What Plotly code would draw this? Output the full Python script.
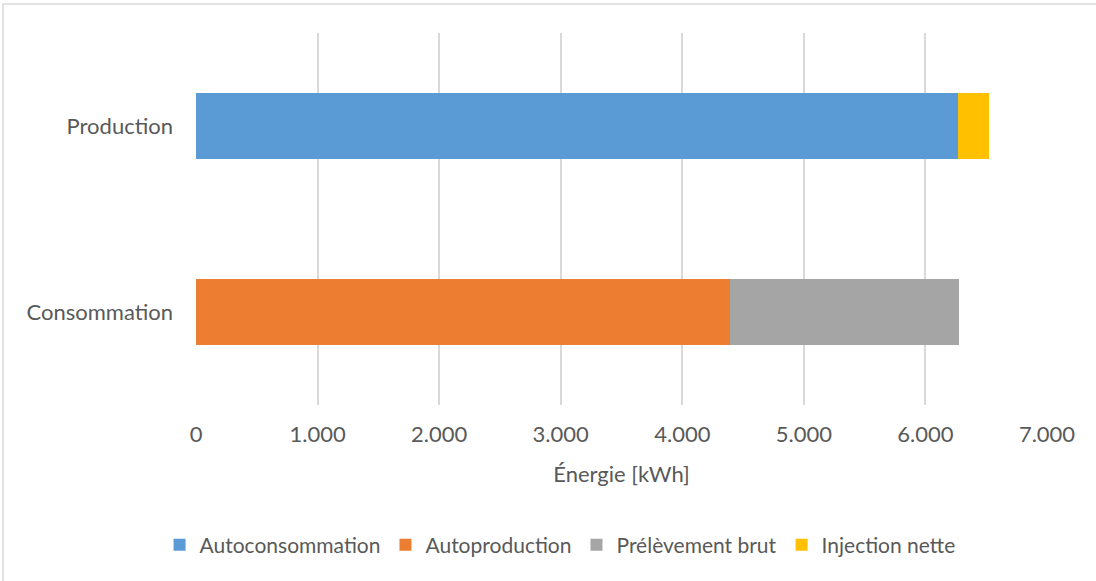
import plotly.graph_objects as go

# Energy balance (kWh)
categories = ["Consommation", "Production"]
autoconsommation = [None, 6270]
autoproduction = [4390, None]
prelevement_brut = [1890, None]
injection_nette = [None, 250]
x_ticks = [0, 1000, 2000, 3000, 4000, 5000, 6000, 7000]

FONT = "Lato"
TXT = "#595959"

fig = go.Figure()
series = [
    ("Autoconsommation", autoconsommation, "#5B9BD5"),
    ("Autoproduction", autoproduction, "#ED7D31"),
    ("Prélèvement brut", prelevement_brut, "#A5A5A5"),
    ("Injection nette", injection_nette, "#FFC000"),
]
for name, vals, color in series:
    fig.add_trace(go.Bar(
        y=categories, x=vals, name=name, orientation="h",
        marker=dict(color=color, line=dict(width=0)),
        width=0.355,
    ))

fig.update_layout(
    barmode="stack",
    width=1096, height=581,
    margin=dict(l=196, r=49, t=33, b=176),
    paper_bgcolor="white", plot_bgcolor="white",
    separators=",.",
    font=dict(family=FONT, color=TXT, size=22),
    xaxis=dict(
        range=[0, 7000], tickvals=x_ticks, tickformat=",d",
        showgrid=True, gridcolor="#d9d9d9", gridwidth=2,
        zeroline=False, showline=False, ticks="",
        ticklabelstandoff=14,
        tickfont=dict(size=22, color=TXT),
        title=dict(text="Énergie [kWh]", font=dict(size=22, color=TXT), standoff=20),
        fixedrange=True,
    ),
    yaxis=dict(
        range=[-0.5, 1.5], showgrid=False, zeroline=False, showline=False,
        ticks="", ticklabelstandoff=22,
        tickfont=dict(size=22, color=TXT),
        fixedrange=True,
    ),
    legend=dict(
        orientation="h", xref="container", x=0.511, xanchor="center",
        yref="container", y=0.062, yanchor="middle",
        font=dict(size=21, color=TXT), traceorder="normal",
        itemclick=False, itemdoubleclick=False,
    ),
    showlegend=True,
    shapes=[dict(
        type="rect", xref="paper", yref="paper",
        x0=-0.2268, x1=1.07, y0=-0.52, y1=1.078,
        line=dict(color="#d9d9d9", width=1.5), fillcolor="rgba(0,0,0,0)",
        layer="below",
    )],
)

fig.write_html("out.html", config={"displayModeBar": False})
